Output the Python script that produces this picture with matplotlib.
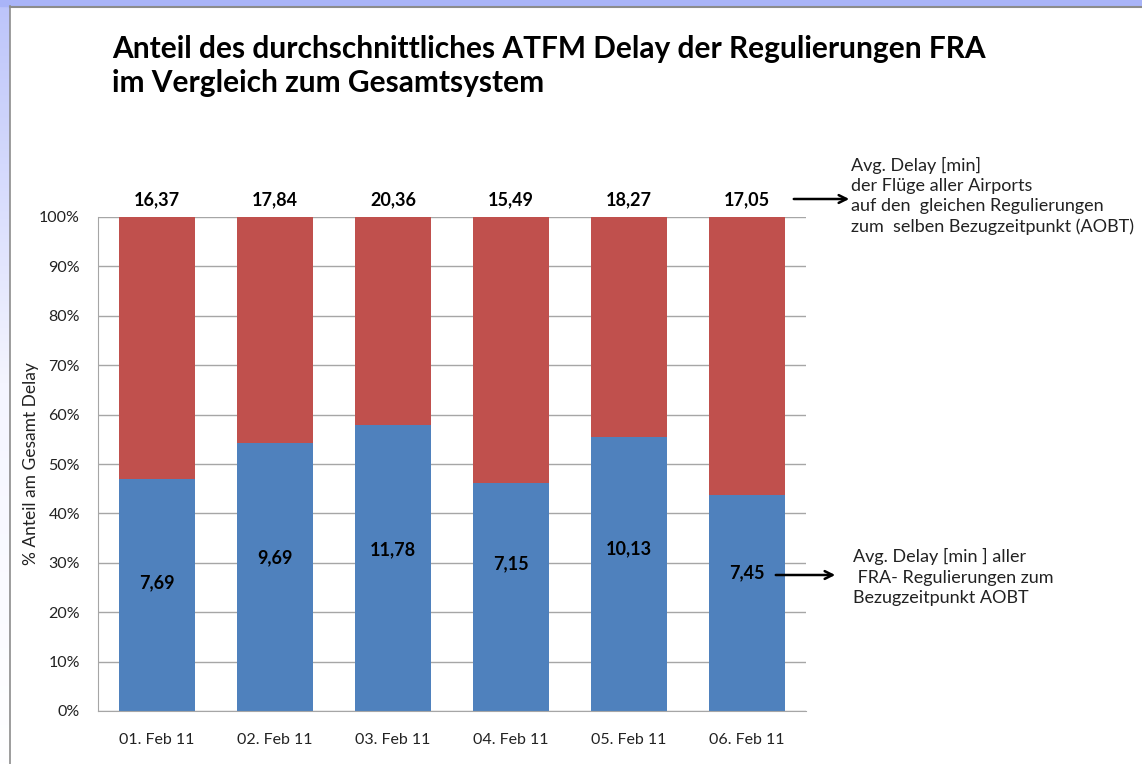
import matplotlib.pyplot as plt
import numpy as np
from matplotlib.patches import Rectangle, FancyArrowPatch
from matplotlib.colors import LinearSegmentedColormap
from matplotlib.ticker import PercentFormatter

plt.rcParams["font.family"] = ["Lato", "DejaVu Sans"]

# data
dates = ["01. Feb 11", "02. Feb 11", "03. Feb 11", "04. Feb 11", "05. Feb 11", "06. Feb 11"]
fra_delay = [7.69, 9.69, 11.78, 7.15, 10.13, 7.45]
total_delay = [16.37, 17.84, 20.36, 15.49, 18.27, 17.05]
fra_label_pos = [0.259, 0.310, 0.326, 0.298, 0.328, 0.279]

W, H = 1142, 764
fig = plt.figure(figsize=(W / 100, H / 100), dpi=100)

# slide background: lavender strips on top and left, white panel
grad = np.linspace(0, 1, 256).reshape(-1, 1)
bg = fig.add_axes([0, 0, 10 / W, 1])
bg.imshow(grad, aspect="auto", extent=[0, 1, 0, 1],
          cmap=LinearSegmentedColormap.from_list("lav", ["#bcc4fa", "#f4f5ff", "#ffffff"]))
bg.axis("off")
fig.patches.append(Rectangle((0, 1 - 6 / H), 1, 6 / H, transform=fig.transFigure,
                             color="#a9b4f8", zorder=0))
fig.add_artist(plt.Line2D([10 / W, 10 / W], [0, 1 - 6 / H], color="#8c8c8c", lw=1.2))
fig.add_artist(plt.Line2D([10 / W, 1], [1 - 7 / H, 1 - 7 / H], color="#8c8c8c", lw=1.5))

ax = fig.add_axes([98 / W, 53 / H, 708 / W, 494 / H])

x = np.arange(len(dates))
share = np.array(fra_delay) / np.array(total_delay)
ax.bar(x, share, width=0.645, color="#4f81bd", zorder=2)
ax.bar(x, 1 - share, bottom=share, width=0.645, color="#c0504d", zorder=2)

for i in x:
    ax.text(i, fra_label_pos[i], f"{fra_delay[i]:.2f}".replace(".", ","), ha="center",
            va="center", fontsize=13, fontweight="bold", zorder=3)
    ax.text(i, 1.034, f"{total_delay[i]:.2f}".replace(".", ","), ha="center",
            va="center", fontsize=13, fontweight="bold", clip_on=False)

ax.set_xlim(-0.5, 5.5)
ax.set_ylim(0, 1)
ax.set_yticks(np.arange(0, 1.01, 0.1))
ax.yaxis.set_major_formatter(PercentFormatter(1, decimals=0))
ax.set_xticks(x)
ax.set_xticklabels(dates)
ax.tick_params(length=0, labelsize=11.5, colors="#222222")
ax.tick_params(axis="x", pad=16)
ax.tick_params(axis="y", pad=13)
ax.grid(axis="y", color="#a6a6a6", lw=1, zorder=0)
for s in ["top", "right"]:
    ax.spines[s].set_visible(False)
for s in ["left", "bottom"]:
    ax.spines[s].set_color("#a6a6a6")
ax.set_ylabel("% Anteil am Gesamt Delay", fontsize=12.5, color="#222222", labelpad=0)

fig.text(112 / W, 1 - 66 / H, "Anteil des durchschnittliches ATFM Delay der Regulierungen FRA\nim Vergleich zum Gesamtsystem",
         fontsize=21.5, fontweight="bold", va="center", ha="left", linespacing=1.3)

fig.text(851 / W, 1 - 196 / H,
         "Avg. Delay [min]\nder Flüge aller Airports\nauf den  gleichen Regulierungen\nzum  selben Bezugzeitpunkt (AOBT)",
         fontsize=13, va="center", ha="left", linespacing=1.32, color="#222222")
fig.text(853 / W, 1 - 577 / H,
         "Avg. Delay [min ] aller\n FRA- Regulierungen zum\nBezugzeitpunkt AOBT",
         fontsize=13, va="center", ha="left", linespacing=1.32, color="#222222")

fig.add_artist(FancyArrowPatch(
    (791 / W, 1 - 199 / H), (852 / W, 1 - 199 / H), transform=fig.transFigure,
    arrowstyle="->", mutation_scale=14, lw=1.8, color="black"))
fig.add_artist(FancyArrowPatch(
    (773 / W, 1 - 575 / H), (838 / W, 1 - 575 / H), transform=fig.transFigure,
    arrowstyle="->", mutation_scale=14, lw=1.8, color="black"))

fig.savefig("out.png", dpi=100)
